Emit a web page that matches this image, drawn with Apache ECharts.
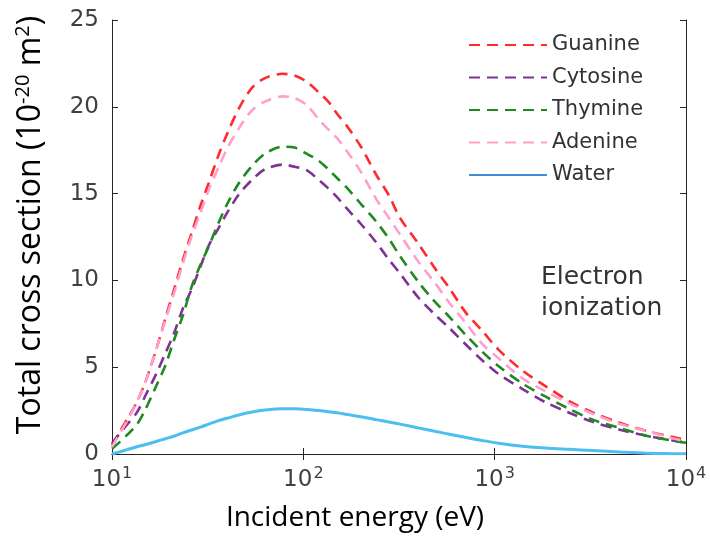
<!DOCTYPE html>
<html>
<head>
<meta charset="utf-8">
<script src="https://cdn.jsdelivr.net/npm/echarts@6/dist/echarts.min.js"></script>
<style>
  html, body { margin: 0; padding: 0; background: #fff; }
  #chart { width: 710px; height: 537px; }
</style>
</head>
<body>
<div id="chart"></div>
<script>
// incident energy (eV)
const energy = [10, 11, 12, 13.5, 15, 17, 19, 21, 23.5, 26, 29, 32, 36, 40, 46, 54, 63, 78, 90, 104,
  120, 135, 150, 170, 200, 240, 280, 320, 400, 480, 580, 700, 860, 1050, 1400, 1850, 2450, 3250,
  4500, 6200, 8700, 10000];

// total cross section (1e-20 m^2)
const guanine = [0.5, 1.3, 2.0, 3.0, 4.2, 6.0, 7.8, 9.4, 11.2, 12.7, 14.3, 15.6, 17.2, 18.45, 19.9,
  21.1, 21.65, 21.9, 21.8, 21.45, 20.85, 20.3, 19.6, 18.85, 17.7, 16.1, 14.9, 13.6, 12.1, 10.8, 9.55,
  8.2, 7.1, 6.0, 4.8, 3.9, 3.05, 2.4, 1.8, 1.33, 0.96, 0.82];
const cytosine = [0.6, 1.2, 1.7, 2.4, 3.4, 4.6, 5.8, 6.9, 8.4, 9.45, 10.8, 12.0, 13.0, 13.9, 14.95,
  15.8, 16.4, 16.67, 16.55, 16.35, 15.8, 15.3, 14.8, 14.1, 13.25, 12.2, 11.2, 10.4, 9.0, 8.1, 7.25,
  6.35, 5.4, 4.6, 3.74, 2.97, 2.38, 1.85, 1.4, 1.05, 0.76, 0.66];
const thymine = [0.3, 0.7, 1.1, 1.7, 2.6, 3.9, 5.1, 6.5, 8.0, 9.6, 10.9, 11.95, 13.3, 14.4, 15.6,
  16.6, 17.3, 17.7, 17.65, 17.3, 16.9, 16.4, 15.9, 15.3, 14.4, 13.4, 12.4, 11.4, 9.9, 8.85, 7.9,
  6.9, 5.9, 5.05, 4.05, 3.3, 2.6, 1.98, 1.5, 1.05, 0.75, 0.65];
const adenine = [0.4, 1.2, 1.9, 3.0, 4.2, 6.0, 7.7, 9.2, 11.0, 12.5, 13.9, 15.2, 16.5, 17.6, 18.75,
  19.8, 20.3, 20.6, 20.5, 20.1, 19.3, 18.7, 18.2, 17.4, 16.25, 14.7, 13.6, 12.65, 11.06, 9.95, 8.7,
  7.6, 6.35, 5.5, 4.35, 3.6, 2.92, 2.32, 1.73, 1.32, 0.88, 0.72];
const water = [0.0, 0.12, 0.25, 0.42, 0.55, 0.72, 0.88, 1.02, 1.22, 1.38, 1.55, 1.72, 1.92, 2.06,
  2.25, 2.42, 2.53, 2.6, 2.6, 2.57, 2.5, 2.44, 2.37, 2.27, 2.15, 1.98, 1.84, 1.72, 1.5, 1.32, 1.14,
  0.96, 0.78, 0.62, 0.45, 0.34, 0.27, 0.2, 0.12, 0.05, 0.02, 0.01];

const yTicks = [0, 5, 10, 15, 20, 25];

const TICK_FONT = 'DejaVu Sans';
const NAME_FONT = 'Open Sans';
const AXIS_COLOR = '#262626';

const pairs = ys => energy.map((e, i) => [e, ys[i]]);

const dashed = (name, data, color) => ({
  name, type: 'line', data: pairs(data), symbol: 'none', smooth: 0.3,
  lineStyle: { color, width: 2.6, type: [11, 7] },
  itemStyle: { color },
});

const chart = echarts.init(document.getElementById('chart'));

chart.setOption({
  animation: false,
  grid: { left: 112, right: 24, top: 20, bottom: 82 },
  legend: {
    orient: 'vertical', left: 463, top: 27,
    itemWidth: 78, itemHeight: 14, itemGap: 6.5,
    itemStyle: { opacity: 0 },
    textStyle: { fontFamily: TICK_FONT, fontSize: 21, color: '#333', lineHeight: 26 },
    data: ['Guanine', 'Cytosine', 'Thymine', 'Adenine',
      { name: 'Water', lineStyle: { color: '#3a8fd6' } }],
  },
  graphic: [{
    type: 'text', left: 541, top: 262,
    style: {
      text: 'Electron\nionization',
      font: '25px "DejaVu Sans"', fill: '#333', lineHeight: 31,
    },
  }],
  xAxis: [{
    type: 'log', min: 10, max: 10000, logBase: 10,
    name: 'Incident energy (eV)', nameLocation: 'middle', nameGap: 50,
    nameTextStyle: { fontFamily: NAME_FONT, fontSize: 28, color: '#000', padding: [0, 88, 0, 0] },
    axisLine: { lineStyle: { color: AXIS_COLOR, width: 1 } },
    axisTick: { inside: true, length: 6, lineStyle: { color: AXIS_COLOR } },
    minorTick: { show: false },
    splitLine: { show: false },
    axisLabel: {
      margin: 12, color: '#404040', fontFamily: TICK_FONT, fontSize: 23,
      formatter: v => '10{s|' + Math.round(Math.log10(v)) + '}',
      rich: { s: { fontFamily: TICK_FONT, fontSize: 16, color: '#404040', padding: [0, 0, 12, 1] } },
    },
  }, {
    type: 'log', min: 10, max: 10000, logBase: 10, position: 'top',
    axisLine: { lineStyle: { color: AXIS_COLOR, width: 1 } },
    axisTick: { inside: true, length: 6, lineStyle: { color: AXIS_COLOR } },
    axisLabel: { show: false }, splitLine: { show: false },
  }],
  yAxis: [{
    type: 'value', min: yTicks[0], max: yTicks[yTicks.length - 1], interval: 5,
    name: 'Total cross section (10{s|-20} m{s|2})', nameLocation: 'middle', nameGap: 63,
    nameTextStyle: {
      fontFamily: NAME_FONT, fontSize: 32, color: '#000', padding: [0, 0, 0, 24],
      rich: { s: { fontFamily: NAME_FONT, fontSize: 20, color: '#000', padding: [0, 0, 16, 0] } },
    },
    axisLine: { show: true, lineStyle: { color: AXIS_COLOR, width: 1 } },
    axisTick: { show: true, inside: true, length: 6, lineStyle: { color: AXIS_COLOR } },
    splitLine: { show: false },
    axisLabel: { margin: 13, color: '#404040', fontFamily: TICK_FONT, fontSize: 23 },
  }, {
    type: 'value', min: yTicks[0], max: yTicks[yTicks.length - 1], interval: 5, position: 'right',
    axisLine: { show: true, lineStyle: { color: AXIS_COLOR, width: 1 } },
    axisTick: { show: true, inside: true, length: 6, lineStyle: { color: AXIS_COLOR } },
    axisLabel: { show: false }, splitLine: { show: false },
  }],
  series: [
    dashed('Guanine', guanine, '#ff2a2a'),
    dashed('Cytosine', cytosine, '#7e3294'),
    dashed('Thymine', thymine, '#1f8a1f'),
    dashed('Adenine', adenine, '#ff9fcc'),
    {
      name: 'Water', type: 'line', data: pairs(water), symbol: 'none', smooth: 0.3,
      lineStyle: { color: '#4dbeee', width: 3 },
      itemStyle: { color: '#4dbeee' },
    },
  ],
});
</script>
</body>
</html>
